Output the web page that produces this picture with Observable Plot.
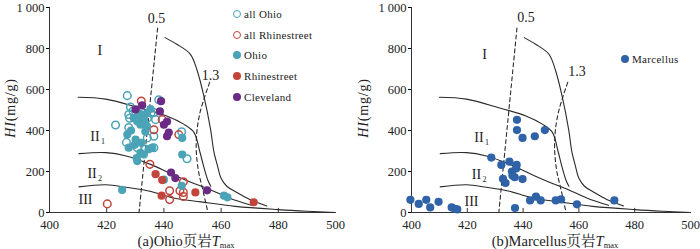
<!DOCTYPE html>
<html><head><meta charset="utf-8">
<script src="https://cdn.jsdelivr.net/npm/d3@7"></script>
<script src="https://cdn.jsdelivr.net/npm/@observablehq/plot@0.6"></script>
<style>
body{margin:0;background:#fff;}
#wrap{position:relative;width:700px;height:249px;display:flex;overflow:hidden;}
.panel{position:relative;width:350px;height:249px;}
.legend{position:absolute;font-family:"Liberation Serif","Times New Roman",serif;font-size:11px;color:#222;letter-spacing:0.3px;}
.legend .item{position:absolute;white-space:nowrap;line-height:12px;height:12px;}
.legend .sw{position:absolute;left:-4px;top:2px;width:8px;height:8px;border-radius:50%;box-sizing:border-box;}
.legend .lab{position:absolute;left:7px;top:0;}
</style>
</head><body>
<div id="wrap"><div class="panel" id="pa"></div><div class="panel" id="pb"></div></div>
<script>
// ---------- data ----------
const xTicks = [400, 420, 440, 460, 480, 500];
const yTicks = [0, 200, 400, 600, 800, 1000];

// template boundary curves [Tmax, HI]
const curveUpper = [[410,562],[419.7,553],[431.6,510],[441,471],[446.9,431],[450.5,391],[452.5,300],[454,220],[455.3,160],[456.4,128]];
const curveMid   = [[410.3,287],[419.7,292],[426.8,276],[435.1,236],[442.2,191],[449,150],[456.4,110],[463,70],[470.6,35]];
const curveLow   = [[410.3,125],[419.7,135],[426.8,123],[435.1,104],[443,72],[453,52],[465,30],[480,14],[490,6],[500,0]];
const curveSteep = [[440.4,853],[444.5,821],[449.2,773],[451.6,694],[454,566],[456.3,407],[457.5,295],[458.7,230],[460,167],[462,128],[465.5,98],[470,64],[476,32]];
const iso05 = [[437.8,900],[435.1,526],[431.3,0]];
const iso13 = [[456,635],[452.5,480],[451.3,345],[451.9,217],[453.7,105],[455.4,0]];

// panel (a) samples
const allOhio = [[427.2,570],[423.1,427],[428.3,515],[427.7,478],[428,460],[427.7,415],[426.9,342],[430.7,316],[438.2,550],[436.5,488],[434.2,460],[437.1,453],[436.5,372],[434.2,364],[436.5,316],[446.2,394],[448.1,262],[431.8,478],[429.2,495],[432.8,470],[433.5,310],[435.5,485]];
const allRhinestreet = [[432.1,544],[436.5,404],[435.1,235],[439.4,453],[445.2,380],[446.8,150],[442,106],[442,63],[446.8,98],[446.8,78],[445.6,106],[420.2,42]];
const ohio = [[427.2,380],[427.7,316],[430.1,356],[429.5,460],[430.7,444],[431.8,428],[433,452],[434.1,420],[431.2,485],[435.3,505],[434.1,485],[430.7,251],[431.8,291],[433,283],[434.7,308],[435.9,316],[428.5,400],[432.5,468],[433.5,395],[432,340],[429.8,330],[425.4,110],[446.4,364],[446.4,283],[446.2,130],[461,82],[462.2,74],[440,160],[430.5,265]];
const rhinestreet = [[437.1,187],[439.4,158],[439.2,82],[451,98],[471.4,50]];
const cleveland = [[430.1,503],[432.4,523],[439,543],[438.6,493],[441.1,444],[440,428],[441.7,390],[441.1,372],[442.5,195],[444,168],[455.1,108]];

// panel (b) samples
const marcellus = [[399.6,62],[402.6,42],[405.3,62],[406.7,25],[409.7,52],[414.4,25],[415.5,18],[416.4,15],[428.6,268],[432.2,232],[432.8,164],[433.7,144],[435.1,248],[436,200],[436.2,180],[437,172],[437.7,232],[437.5,215],[439.8,163],[437.8,452],[437.8,402],[439.8,364],[444.2,372],[447.8,402],[442.5,59],[444.6,77],[446.3,59],[437.1,22],[451.7,59],[453.6,64],[459.3,40],[472.7,59]];

// annotations
const labelsA = [{t:"I",x:417.6,y:791},{t:"II",x:415.9,y:372,s:"1"},{t:"II",x:414.9,y:190,s:"2"},{t:"III",x:412.6,y:63},{t:"0.5",x:437.4,y:944},{t:"1.3",x:456.3,y:667}];
const labelsB = [{t:"I",x:426.2,y:771},{t:"II",x:424.2,y:365,s:"1"},{t:"II",x:423.3,y:187,s:"2"},{t:"III",x:421.5,y:56},{t:"0.5",x:441,y:949},{t:"1.3",x:459.3,y:686}];

const legendA = [
  {name:"all Ohio", color:"#4aa3b6", open:true},
  {name:"all Rhinestreet", color:"#c2453c", open:true},
  {name:"Ohio", color:"#4aa3b6", open:false},
  {name:"Rhinestreet", color:"#c2453c", open:false},
  {name:"Cleveland", color:"#6b2a86", open:false}
];
const legendB = [{name:"Marcellus", color:"#2f62a7", open:false}];

// ---------- drawing ----------
const FONT = '"Liberation Serif","Times New Roman","Noto Serif CJK SC","Noto Sans CJK SC",serif';
const fmt = d => d === 1000 ? "1 000" : String(d);
const X = d => d[0], Y = d => d[1];

function panel({el, marginLeft, marginRight, marginTop, dots, labels, ylabX, capX, tag, name, legend, legX, legY, legStep}) {
  const lineStyle = {x: X, y: Y, stroke: "#2a2a2a", strokeWidth: 1.1, curve: "catmull-rom"};
  const marks = [
    Plot.ruleY([0], {stroke: "#333", strokeWidth: 1}),
    Plot.ruleX([400], {y1: 0, y2: 1000, stroke: "#333", strokeWidth: 1}),
    Plot.ruleX(xTicks.slice(1, -1), {y1: 0, y2: 20, stroke: "#333"}),
    Plot.axisY(yTicks, {tickSize: 3, tickPadding: 2, tickFormat: fmt, fontSize: 12.5, fill: "#222", label: null}),
    Plot.axisX(xTicks, {tickSize: 0, tickPadding: 8, fontSize: 12.5, fill: "#222", label: null}),
    Plot.line(curveUpper, lineStyle),
    Plot.line(curveMid, lineStyle),
    Plot.line(curveLow, lineStyle),
    Plot.line(curveSteep, lineStyle),
    Plot.line(iso05, {x: X, y: Y, stroke: "#2a2a2a", strokeWidth: 1.1, strokeDasharray: "4,3"}),
    Plot.line(iso13, {...lineStyle, strokeDasharray: "4,3"}),
    Plot.text(labels, {x: "x", y: "y", text: "t", fontSize: 14, fill: "#222"}),
    Plot.text(labels.filter(d => d.s), {x: "x", y: "y", text: "s", fontSize: 8, dx: 8, dy: 5, fill: "#222"}),
    ...dots.map(s => Plot.dot(s.data, {x: X, y: Y, r: s.open ? 3.8 : 4.1,
       fill: s.open ? "none" : s.color, stroke: s.open ? s.color : "none", strokeWidth: 1.5}))
  ];
  const svg = Plot.plot({
    width: 350, height: 249,
    marginLeft, marginRight, marginTop, marginBottom: 37,
    x: {domain: [400, 500]},
    y: {domain: [0, 1000]},
    style: {fontFamily: FONT, fontSize: "13px", overflow: "visible", background: "white"},
    marks
  });
  const s = d3.select(svg);
  const yl = s.append("text")
    .attr("transform", `translate(${ylabX},108) rotate(-90)`)
    .attr("text-anchor", "middle").attr("dominant-baseline", "middle")
    .attr("font-size", 14).attr("letter-spacing", "0.8px").attr("fill", "#222");
  yl.append("tspan").attr("font-style", "italic").text("HI");
  yl.append("tspan").text("(mg/g)");
  const cap = s.append("text").attr("x", capX).attr("y", 246)
    .attr("text-anchor", "middle").attr("font-size", 14.5).attr("fill", "#222");
  cap.append("tspan").text(`(${tag})${name}页岩`);
  cap.append("tspan").attr("font-style", "italic").text("T");
  cap.append("tspan").attr("font-size", 8.5).attr("dy", 2).text("max");
  el.appendChild(svg);

  const lg = document.createElement("div");
  lg.className = "legend";
  lg.style.left = legX + "px"; lg.style.top = legY + "px";
  legend.forEach((d, i) => {
    const it = document.createElement("div");
    it.className = "item"; it.style.top = (i * legStep - 6) + "px"; it.style.left = "0px";
    const sw = document.createElement("span"); sw.className = "sw";
    if (d.open) { sw.style.border = `1.6px solid ${d.color}`; } else { sw.style.background = d.color; }
    const lab = document.createElement("span"); lab.className = "lab"; lab.textContent = d.name;
    it.appendChild(sw); it.appendChild(lab); lg.appendChild(it);
  });
  el.appendChild(lg);
}

panel({
  el: document.getElementById("pa"), marginLeft: 49, marginRight: 15, marginTop: 7,
  dots: [
    {data: allOhio, color: "#4aa3b6", open: true},
    {data: allRhinestreet, color: "#c2453c", open: true},
    {data: ohio, color: "#4aa3b6", open: false},
    {data: rhinestreet, color: "#c2453c", open: false},
    {data: cleveland, color: "#6b2a86", open: false}
  ],
  labels: labelsA, ylabX: 12, capX: 186, tag: "a", name: "Ohio",
  legend: legendA, legX: 237, legY: 14, legStep: 20.7
});
panel({
  el: document.getElementById("pb"), marginLeft: 61, marginRight: 10, marginTop: 7,
  dots: [{data: marcellus, color: "#2f62a7", open: false}],
  labels: labelsB, ylabX: 15, capX: 205, tag: "b", name: "Marcellus",
  legend: legendB, legX: 275, legY: 59, legStep: 20
});
</script>
</body></html>
